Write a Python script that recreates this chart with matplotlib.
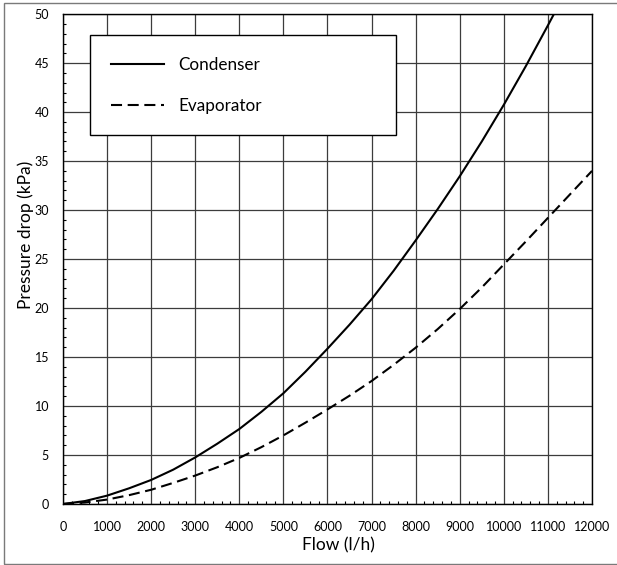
import numpy as np
import matplotlib.pyplot as plt
from matplotlib.patches import Rectangle
from matplotlib.ticker import MultipleLocator

plt.rcParams['font.family'] = ['Lato', 'DejaVu Sans']

# flow in l/h, pressure drop in kPa
flow = [0, 500, 1000, 1500, 2000, 2500, 3000, 3500, 4000, 4500, 5000, 5500, 6000,
        6500, 7000, 7500, 8000, 8500, 9000, 9500, 10000, 10500, 11000, 11500, 12000]
condenser = [0, 0.3, 0.85, 1.6, 2.45, 3.5, 4.75, 6.15, 7.65, 9.4, 11.3, 13.5, 15.85,
             18.3, 20.9, 23.8, 26.9, 30.1, 33.45, 37.0, 40.75, 44.7, 48.85, 53.1, 57.5]
evaporator = [0, 0.15, 0.45, 0.9, 1.45, 2.15, 2.9, 3.75, 4.7, 5.8, 7.0, 8.3, 9.65,
              11.05, 12.55, 14.2, 15.95, 17.85, 19.9, 22.1, 24.45, 26.8, 29.2, 31.6, 34.0]

fig = plt.figure(figsize=(6.17, 5.65), dpi=100)
ax = fig.add_axes([0.102, 0.108, 0.8575, 0.867])

ax.plot(flow, condenser, color='black', lw=1.5, label='Condenser')
ax.plot(flow, evaporator, color='black', lw=1.5, ls=(0, (5.3, 2.7)), label='Evaporator')

ax.set_xlim(0, 12000)
ax.set_ylim(0, 50)
ax.xaxis.set_major_locator(MultipleLocator(1000))
ax.xaxis.set_minor_locator(MultipleLocator(200))
ax.yaxis.set_major_locator(MultipleLocator(5))
ax.yaxis.set_minor_locator(MultipleLocator(1))
ax.grid(True, which='major', color='#3c3c3c', lw=0.9)
ax.set_axisbelow(True)
ax.tick_params(which='major', length=0, labelsize=9)
ax.tick_params(axis='x', which='major', pad=12)
ax.tick_params(axis='y', which='major', pad=10)
ax.tick_params(which='minor', direction='in', length=2.5, width=0.8)
for s in ax.spines.values():
    s.set_color('black')
    s.set_linewidth(1)

ax.set_xlabel('Flow (l/h)', fontsize=12.5)
ax.set_ylabel('Pressure drop (kPa)', fontsize=12.5)
ax.xaxis.set_label_coords(0.52, -0.068)
ax.yaxis.set_label_coords(-0.055, 0.549)

leg = ax.legend(loc='upper left', bbox_to_anchor=(0.051, 0.957, 0.578, 0.0),
                mode='expand', fontsize=12.3, handlelength=3.06, handletextpad=0.88,
                labelspacing=1.49, borderpad=1.25, borderaxespad=0, fancybox=False,
                framealpha=1, edgecolor='black')
leg.get_frame().set_linewidth(1)

# border around the whole chart (right side runs off the image)
fig.patches.append(Rectangle((4 / 617, 0.8 / 565), 700 / 617, 561.7 / 565,
                             transform=fig.transFigure, fill=False,
                             edgecolor='#7a7a7a', lw=1))

fig.savefig('out.png', dpi=100)
